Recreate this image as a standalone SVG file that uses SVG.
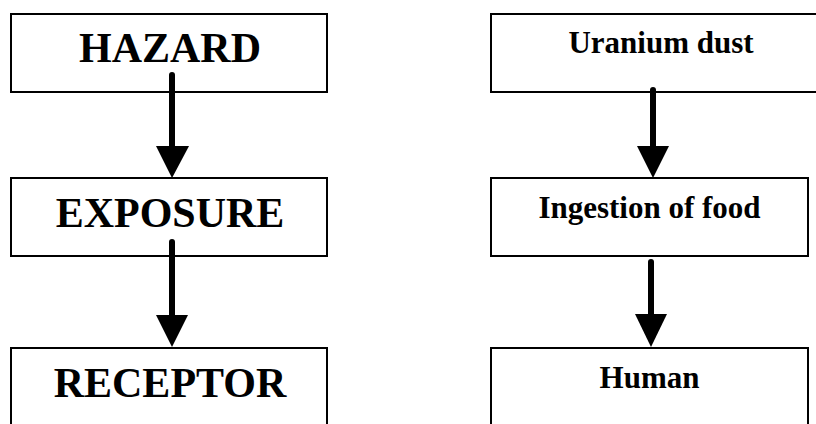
<svg xmlns="http://www.w3.org/2000/svg" width="816" height="424" viewBox="0 0 816 424">
<style>
.box{fill:#fff;stroke:#000;stroke-width:2}
.big{font-family:"Liberation Serif","Times New Roman",serif;font-weight:bold;font-size:42px;fill:#000;text-anchor:middle}
.small{font-family:"Liberation Serif","Times New Roman",serif;font-weight:bold;font-size:31px;fill:#000;text-anchor:middle}
.shaft{stroke:#000;stroke-width:6;stroke-linecap:round;fill:none}
.head{fill:#000}
</style>
<rect width="816" height="424" fill="#fff"/>
<g id="hazard"><rect class="box" x="11" y="14" width="316" height="78"/><text class="big" x="170" y="62">HAZARD</text></g>
<g id="exposure"><rect class="box" x="11" y="178" width="316" height="78"/><text class="big" x="170" y="227">EXPOSURE</text></g>
<g id="receptor"><rect class="box" x="11" y="348" width="316" height="90"/><text class="big" x="170" y="397">RECEPTOR</text></g>
<g id="uranium"><rect class="box" x="491" y="14" width="340" height="78"/><text class="small" x="661" y="53">Uranium dust</text></g>
<g id="ingestion"><rect class="box" x="491" y="178" width="317" height="78"/><text class="small" x="649.5" y="218">Ingestion of food</text></g>
<g id="human"><rect class="box" x="491" y="348" width="317" height="90"/><text class="small" x="649.5" y="388">Human</text></g>
<g id="connectors">
<line class="shaft" x1="172" y1="75" x2="172" y2="150"/><polygon class="head" points="156,146 189,146 172,178"/>
<line class="shaft" x1="172" y1="242" x2="172" y2="318"/><polygon class="head" points="156,315 188,315 172,347"/>
<line class="shaft" x1="653" y1="90" x2="653" y2="150"/><polygon class="head" points="637,146 669,146 653,178"/>
<line class="shaft" x1="651" y1="262" x2="651" y2="318"/><polygon class="head" points="635,314 667,314 651,347"/>
</g>
</svg>
